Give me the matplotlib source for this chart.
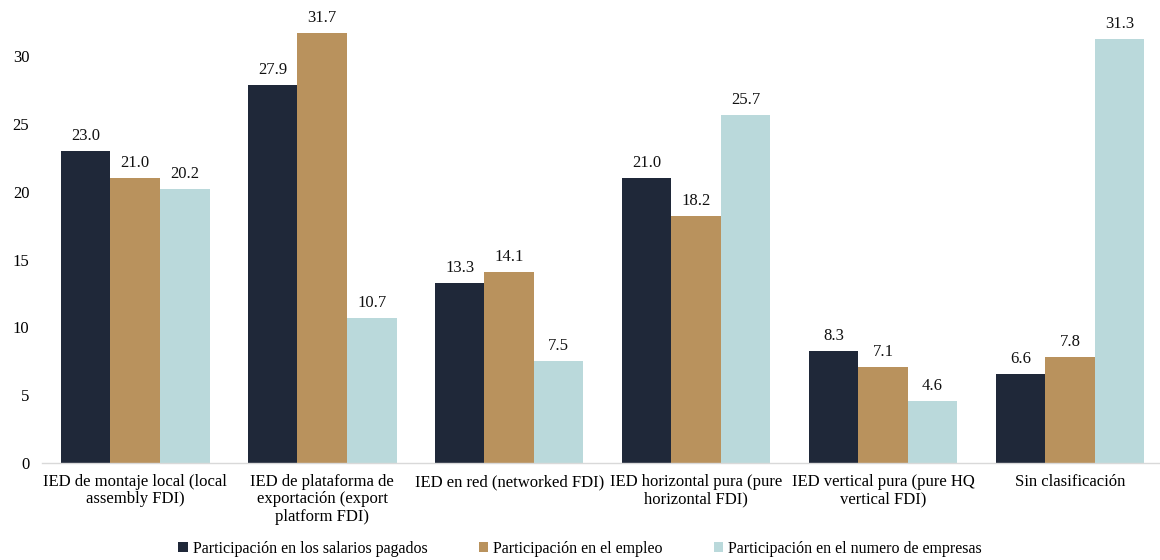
import matplotlib
matplotlib.use("Agg")
import matplotlib.pyplot as plt
import numpy as np

plt.rcParams['font.family'] = ['Liberation Serif', 'DejaVu Serif']

categories = [
    "IED de montaje local (local\nassembly FDI)",
    "IED de plataforma de\nexportación (export\nplatform FDI)",
    "IED en red (networked FDI)",
    "IED horizontal pura (pure\nhorizontal FDI)",
    "IED vertical pura (pure HQ\nvertical FDI)",
    "Sin clasificación",
]
series_names = [
    "Participación en los salarios pagados",
    "Participación en el empleo",
    "Participación en el numero de empresas",
]
salarios = [23.0, 27.9, 13.3, 21.0, 8.3, 6.6]
empleo = [21.0, 31.7, 14.1, 18.2, 7.1, 7.8]
empresas = [20.2, 10.7, 7.5, 25.7, 4.6, 31.3]
yticks = [0, 5, 10, 15, 20, 25, 30]

colors = ["#1F2839", "#B9925D", "#BAD9DB"]

fig = plt.figure(figsize=(11.6, 5.6), dpi=100)
ax = fig.add_axes([0.036, 0.173, 0.967, 0.775])

x = np.arange(len(categories))
w = 0.265
for i, (vals, col, name) in enumerate(zip([salarios, empleo, empresas], colors, series_names)):
    pos = x + (i - 1) * w
    bars = ax.bar(pos, vals, width=w, color=col, label=name, zorder=2)
    for b, v in zip(bars, vals):
        ax.annotate(f"{v:.1f}", (b.get_x() + b.get_width() / 2, v),
                    xytext=(0, 5), textcoords="offset points",
                    ha="center", va="bottom", fontsize=12, color="#111111")

ax.set_xlim(-0.5, len(categories) - 0.5)
ax.set_ylim(0, 32)
ax.set_yticks(yticks)
ax.set_xticks(x)
ax.set_xticklabels(categories, fontsize=12, linespacing=1.1)
ax.tick_params(axis="y", length=0, labelsize=12, pad=9)
ax.tick_params(axis="x", length=0, pad=8)
for s in ["top", "right", "left"]:
    ax.spines[s].set_visible(False)
ax.spines["bottom"].set_color("#D9D9D9")
ax.spines["bottom"].set_linewidth(1.0)

leg = fig.legend(loc="lower center", bbox_to_anchor=(0.5, -0.02), ncol=3, frameon=False,
                 fontsize=11.5, handlelength=0.6, handleheight=0.6, handletextpad=0.3,
                 columnspacing=3.2)

fig.savefig("out.png", dpi=100)
